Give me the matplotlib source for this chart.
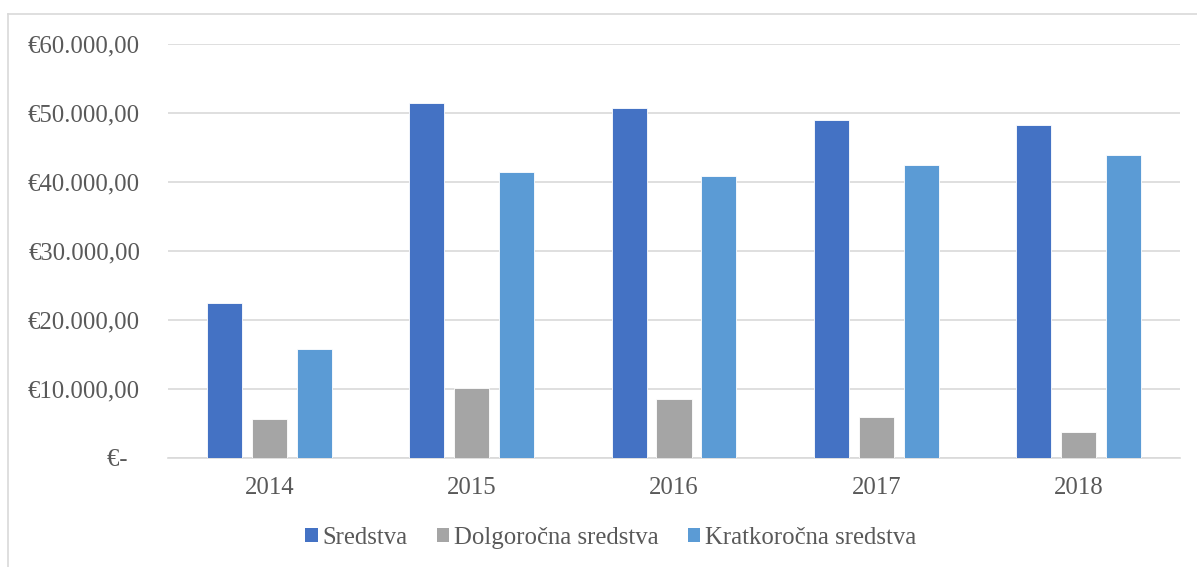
import matplotlib
matplotlib.use("Agg")
import matplotlib.pyplot as plt
import numpy as np
from matplotlib.patches import Patch
from matplotlib.lines import Line2D
from matplotlib.ticker import FuncFormatter

years = ["2014", "2015", "2016", "2017", "2018"]
sredstva = [22400, 51450, 50600, 48850, 48200]
dolgorocna = [5600, 10100, 8550, 5900, 3750]
kratkorocna = [15700, 41350, 40750, 42450, 43800]
series_names = ["Sredstva", "Dolgoročna sredstva", "Kratkoročna sredstva"]
colors = ["#4472C4", "#A5A5A5", "#5B9BD5"]

plt.rcParams['font.family'] = ['Liberation Serif', 'DejaVu Serif']
text_color = "#595959"
grid_color = "#D9D9D9"
fs = 17.8

W, H = 1197, 567
fig = plt.figure(figsize=(W / 100, H / 100), dpi=100)
ax = fig.add_axes([168 / W, 1 - 457.7 / H, (1180 - 168) / W, (457.7 - 43.5) / H])

x = np.arange(len(years))
bw = 0.173
step = 0.222
data = [sredstva, dolgorocna, kratkorocna]
for i, (vals, col) in enumerate(zip(data, colors)):
    ax.bar(x + (i - 1) * step, vals, width=bw, color=col, edgecolor="#FFFFFF",
           linewidth=0.6, zorder=3)

ax.set_xlim(-0.5, len(years) - 0.5)
ax.set_ylim(0, 60000)
ax.set_yticks(np.arange(0, 60001, 10000))


def fmt(v, pos):
    if v == 0:
        return "€-  "
    s = f"{int(v):,}".replace(",", ".")
    return f"€{s},00"


ax.yaxis.set_major_formatter(FuncFormatter(fmt))
ax.set_xticks(x)
ax.set_xticklabels(years)
ax.tick_params(axis="both", length=0, labelsize=fs, labelcolor=text_color)
ax.tick_params(axis="y", pad=20)
ax.tick_params(axis="x", pad=14)
ax.grid(axis="y", color=grid_color, linewidth=1.2, zorder=0)
ax.set_axisbelow(True)
for s in ["top", "right", "left"]:
    ax.spines[s].set_visible(False)
ax.spines["bottom"].set_color(grid_color)
ax.spines["bottom"].set_linewidth(1.2)

handles = [Patch(facecolor=c, edgecolor="none") for c in colors]
fig.legend(handles, series_names, loc="center", bbox_to_anchor=(611 / W, 1 - 538 / H),
           ncol=3, frameon=False, fontsize=fs, labelcolor=text_color,
           handlelength=0.5, handleheight=0.5, handletextpad=0.2, columnspacing=1.18)

# chart area frame (top and left visible)
fig.add_artist(Line2D([8 / W, 1.0], [1 - 14 / H, 1 - 14 / H], color=grid_color, linewidth=1.2,
                      transform=fig.transFigure))
fig.add_artist(Line2D([8 / W, 8 / W], [0, 1 - 14 / H], color=grid_color, linewidth=1.2,
                      transform=fig.transFigure))

fig.savefig("out.png", dpi=100)
